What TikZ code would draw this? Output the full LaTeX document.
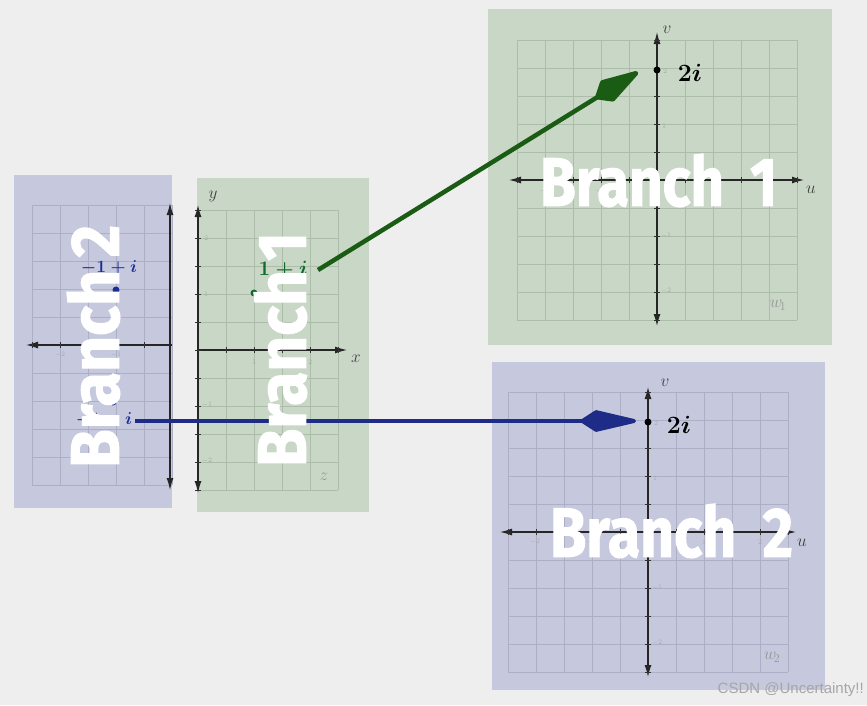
\documentclass[tikz,border=0pt]{standalone}
\usepackage{fontspec}
\usepackage{graphicx}
\usetikzlibrary{arrows.meta}
\newfontfamily\branchfont{Fira Sans}[BoldFeatures={FakeBold=1.6}]
\newfontfamily\wmfont{Liberation Sans}
\definecolor{bgc}{RGB}{238,238,238}
\definecolor{bluepanel}{RGB}{198,201,222}
\definecolor{greenpanel}{RGB}{201,215,199}
\definecolor{bluegrid}{RGB}{172,175,198}
\definecolor{greengrid}{RGB}{172,190,170}
\definecolor{inkblue}{RGB}{28,45,150}
\definecolor{inkgreen}{RGB}{18,105,45}
\definecolor{arrgreen}{RGB}{27,92,20}
\definecolor{arrblue}{RGB}{30,44,135}
\definecolor{labgray}{RGB}{150,152,150}
\definecolor{tickgray}{RGB}{165,168,165}
\tikzset{
  bgrid/.style={draw=bluegrid, line width=0.6pt},
  ggrid/.style={draw=greengrid, line width=0.6pt},
  axisline/.style={draw=black!85, line width=1.2pt},
  axtip/.tip={Latex[length=12pt,width=7pt]},
  tickmark/.style={draw=black!80, line width=1pt},
  ticklab/.style={text=tickgray, font=\fontsize{7}{7}\selectfont, inner sep=0pt},
  axlab/.style={text=black!75, font=\fontsize{17}{17}\selectfont, inner sep=0pt},
  cornerlab/.style={text=labgray, font=\fontsize{17}{17}\selectfont, inner sep=0pt},
  dotnode/.style={circle, fill=#1, inner sep=0pt, minimum size=7pt},
  handblue/.style={text=inkblue, font=\fontsize{19}{19}\selectfont\boldmath, inner sep=0pt},
  handgreen/.style={text=inkgreen, font=\fontsize{20}{20}\selectfont\boldmath, inner sep=0pt},
  handblack/.style={text=black, font=\fontsize{30}{30}\selectfont\boldmath, inner sep=0pt},
  greenarrow/.style={draw=arrgreen, line width=4.5pt, -{Kite[length=57pt,width=25pt,inset=15pt,round]}, fill=arrgreen},
  bluearrow/.style={draw=arrblue, line width=4pt, -{Kite[length=64pt,width=22pt,inset=17pt,round]}, fill=arrblue},
  branch/.style={text=white, inner sep=0pt, outer sep=0pt}
}
\newcommand\brtext[3]{\resizebox{#1}{#2}{\branchfont\bfseries #3}}
\begin{document}
\begin{tikzpicture}[x=1pt,y=-1pt]
\useasboundingbox (0,0) rectangle (867,705);
\fill[bgc] (0,0) rectangle (867,705);

% ---------- Panel A (left, blue) ----------
\fill[bluepanel] (14,175) rectangle (172,508);
\foreach \i in {0,...,5} \draw[bgrid] (32+28*\i,205) -- (32+28*\i,485);
\foreach \j in {0,...,10} \draw[bgrid] (32,205+28*\j) -- (172,205+28*\j);
\draw[axisline, axtip-] (26,345) -- (172,345);
\draw[axisline, axtip-axtip] (170,203) -- (170,490);
\foreach \i in {1,...,5} \draw[tickmark] (172-28*\i,342) -- (172-28*\i,348);
\node[ticklab] (ta1) at (60,355) {$-2$};
\node[ticklab] (ta2) at (116,355) {$-1$};

% ---------- Panel B (z, green) ----------
\fill[greenpanel] (197,178) rectangle (369,512);
\foreach \i in {0,...,5} \draw[ggrid] (198+28*\i,210) -- (198+28*\i,490);
\foreach \j in {0,...,10} \draw[ggrid] (198,210+28*\j) -- (338,210+28*\j);
\draw[axisline, -axtip] (198,350) -- (347,350);
\draw[axisline, axtip-axtip] (198,493) -- (198,205);
\foreach \i in {1,...,5} \draw[tickmark] (198+28*\i,347) -- (198+28*\i,353);
\foreach \j in {0,...,10} \draw[tickmark] (195,210+28*\j) -- (201,210+28*\j);
\node[ticklab] (tb1) at (254,362) {$1$};
\node[ticklab] (tb2) at (310,362) {$2$};
\node[ticklab] (tb3) at (206,238) {$2$};
\node[ticklab] (tb4) at (206,294) {$1$};
\node[ticklab] (tb5) at (207,405) {$-1$};
\node[ticklab] (tb6) at (207,461) {$-2$};
\node[axlab] (lx) at (356,359) {$x$};
\node[axlab] (ly) at (213,196) {$y$};
\node[cornerlab] (lz) at (324,477) {$z$};

% ---------- Panel C (w1, green) ----------
\fill[greenpanel] (488,9) rectangle (832,345);
\foreach \i in {0,...,10} \draw[ggrid] (517+28*\i,40) -- (517+28*\i,320);
\foreach \j in {0,...,10} \draw[ggrid] (517,40+28*\j) -- (797,40+28*\j);
\draw[axisline, axtip-axtip] (509,180) -- (804,180);
\draw[axisline, axtip-axtip] (657,326) -- (657,32);
\foreach \i in {-5,...,5} \draw[tickmark] (657+28*\i,177) -- (657+28*\i,183);
\foreach \j in {-5,...,5} \draw[tickmark] (654,180+28*\j) -- (660,180+28*\j);
\node[ticklab] (tc1) at (665,71) {$2$};
\node[ticklab] (tc2) at (664,126) {$1$};
\node[ticklab] (tc3) at (666,236) {$-1$};
\node[ticklab] (tc4) at (666,291) {$-2$};
\node[ticklab] (tc5) at (545,191) {$-2$};
\node[ticklab] (tc6) at (601,191) {$-1$};
\node[ticklab] (tc7) at (713,191) {$1$};
\node[ticklab] (tc8) at (769,191) {$2$};
\node[axlab] (lv1) at (667,30) {$v$};
\node[axlab] (lu1) at (811,190) {$u$};
\node[cornerlab] (lw1) at (778,305) {$w_{\!1}$};

% ---------- Panel D (w2, blue) ----------
\fill[bluepanel] (492,362) rectangle (825,690);
\foreach \i in {0,...,10} \draw[bgrid] (508+28*\i,392) -- (508+28*\i,672);
\foreach \j in {0,...,10} \draw[bgrid] (508,392+28*\j) -- (788,392+28*\j);
\draw[axisline, axtip-axtip] (500,532) -- (796,532);
\draw[axisline, axtip-axtip] (648,677) -- (648,387);
\foreach \i in {-5,...,5} \draw[tickmark] (648+28*\i,529) -- (648+28*\i,535);
\foreach \j in {-5,...,5} \draw[tickmark] (645,532+28*\j) -- (651,532+28*\j);
\node[ticklab] (td1) at (656,423) {$2$};
\node[ticklab] (td2) at (655,478) {$1$};
\node[ticklab] (td3) at (657,588) {$-1$};
\node[ticklab] (td4) at (657,643) {$-2$};
\node[ticklab] (td5) at (535,542) {$-2$};
\node[ticklab] (td6) at (591,542) {$-1$};
\node[ticklab] (td7) at (704,542) {$1$};
\node[ticklab] (td8) at (760,542) {$2$};
\node[axlab] (lv2) at (665,383) {$v$};
\node[axlab] (lu2) at (802,543) {$u$};
\node[cornerlab] (lw2) at (772,657) {$w_{\!2}$};

% ---------- points and handwriting ----------
\node[dotnode=inkblue] (pa1) at (116,290) {};
\node[dotnode=inkblue] (pa2) at (113,402) {};
\node[handblue] (ha1) at (109,268) {$-1+i$};
\node[handblue] (ha2) at (104,420) {$-1-i$};
\node[dotnode=inkgreen] (pb1) at (254,293) {};
\node[handgreen] (hb1) at (283,270) {$1+i$};
\node[dotnode=black] (w1dot) at (657,70) {};
\node[handblack] (hc1) at (690,73) {$2i$};
\node[dotnode=black] (w2dot) at (648,422) {};
\node[handblack] (hd1) at (679,425) {$2i$};

% ---------- connectors ----------
\coordinate (gstart) at (318,270);
\coordinate (gtip) at (638,72);
\coordinate (bstart) at (135,421);
\coordinate (btip) at (636,421);
\draw[greenarrow] (gstart) -- (gtip);
\draw[bluearrow] (bstart) -- (btip);

% ---------- branch labels ----------
\node[branch, rotate=90, anchor=south west] (bra) at (120,468) {\brtext{243pt}{52pt}{Branch\hspace{0.2em}2}};
\node[branch, rotate=90, anchor=south west] (brb) at (307,467) {\brtext{235pt}{52pt}{Branch\hspace{0.15em}1}};
\node[branch, anchor=south west] (brc) at (540,207) {\brtext{237pt}{52pt}{Branch\hspace{0.45em}1}};
\node[branch, anchor=south west] (brd) at (550,558) {\brtext{243pt}{53pt}{Branch\hspace{0.45em}2}};

% ---------- watermark ----------
\node[text=black!35, font=\wmfont\fontsize{15}{15}\selectfont, anchor=east, inner sep=0pt] (wm) at (864,690) {CSDN @Uncertainty!!};
\end{tikzpicture}
\end{document}
